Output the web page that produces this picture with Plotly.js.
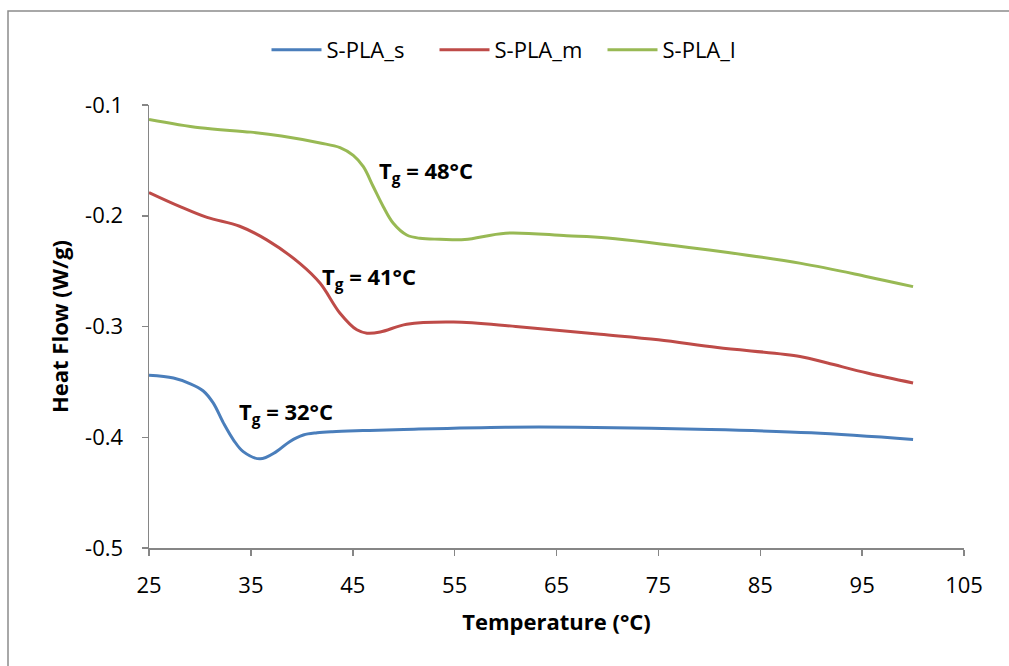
<!DOCTYPE html>
<html>
<head>
<meta charset="utf-8">
<script src="https://cdn.plot.ly/plotly-3.0.1.min.js"></script>
<style>html,body{margin:0;padding:0;background:#fff;}#chart{width:1009px;height:666px;}</style>
</head>
<body>
<div id="chart"></div>
<script>
// Data
const tempS = [25, 27.4, 29.0, 30.3, 31.3, 32.3, 33.3, 34.25, 35.9, 37.5, 38.8, 40.15, 41.5, 43, 46, 50, 60, 67, 80, 90, 100];
const flowS = [-0.344, -0.3465, -0.3515, -0.358, -0.369, -0.387, -0.4025, -0.413, -0.4195, -0.413, -0.404, -0.398, -0.396, -0.395, -0.394, -0.393, -0.391, -0.391, -0.393, -0.396, -0.402];

const tempM = [25, 28, 30.7, 33.9, 36.6, 39.8, 41.8, 43.75, 45.4, 46.4, 47.7, 50.3, 54.9, 61, 69.3, 75, 80.8, 88.9, 91.6, 95.5, 100];
const flowM = [-0.179, -0.1915, -0.2015, -0.2095, -0.222, -0.243, -0.261, -0.288, -0.303, -0.306, -0.305, -0.298, -0.296, -0.300, -0.307, -0.312, -0.319, -0.327, -0.333, -0.342, -0.351];

const tempL = [25, 30, 35, 38, 41.8, 43.75, 45.05, 46.04, 47.02, 48.0, 48.98, 50.3, 51.6, 53.56, 56, 60, 66, 70, 80, 89, 95.5, 100];
const flowL = [-0.113, -0.1205, -0.1245, -0.128, -0.1343, -0.1385, -0.1455, -0.1557, -0.1738, -0.1918, -0.2068, -0.2174, -0.2204, -0.2212, -0.2215, -0.2157, -0.218, -0.220, -0.231, -0.243, -0.255, -0.264];

const seriesNames = ['S-PLA_s', 'S-PLA_m', 'S-PLA_l'];
const tgLabels = ['T<sub>g</sub> = 32°C', 'T<sub>g</sub> = 41°C', 'T<sub>g</sub> = 48°C'];
const tgX = [33.6, 41.8, 47.4];
const tgY = [-0.378, -0.256, -0.1605];

const yTickVals = [-0.5, -0.4, -0.3, -0.2, -0.1];
const yTickText = ['-0.5', '-0.4', '-0.3', '-0.2', '-0.1'];
const xTickVals = [25, 35, 45, 55, 65, 75, 85, 95, 105];
const xTickText = ['25', '35', '45', '55', '65', '75', '85', '95', '105'];

const colors = ['#4A7EBB', '#BE4B48', '#98B954'];
const FONT = '"Open Sans", "Noto Sans", sans-serif';
const FS = 22;

const xs = [tempS, tempM, tempL];
const ys = [flowS, flowM, flowL];
const traces = xs.map((x, i) => ({
  x: x, y: ys[i], name: seriesNames[i], type: 'scatter', mode: 'lines',
  line: {color: colors[i], width: 3, shape: 'spline', smoothing: 1}
}));

const annotations = tgLabels.map((t, i) => ({
  x: tgX[i], y: tgY[i], xref: 'x', yref: 'y', text: '<b>' + t + '</b>',
  showarrow: false, xanchor: 'left', yanchor: 'middle',
  font: {family: FONT, size: FS, color: '#000'}
}));

const layout = {
  width: 1009, height: 666,
  margin: {l: 149, r: 45, t: 105, b: 118},
  paper_bgcolor: '#fff', plot_bgcolor: '#fff',
  font: {family: FONT, size: FS, color: '#000'},
  showlegend: true,
  legend: {orientation: 'h', xref: 'container', yref: 'container', x: 0.5 + 14/1009, xanchor: 'center',
           y: 1 - 50/666, yanchor: 'middle', font: {family: FONT, size: FS, color: '#000'},
           itemwidth: 50, entrywidth: 103, entrywidthmode: 'pixels', traceorder: 'normal'},
  xaxis: {range: [25, 105], tickvals: xTickVals, ticktext: xTickText, showgrid: false, zeroline: false,
          showline: true, linecolor: '#868686', linewidth: 1.5, ticks: 'outside', ticklen: 6,
          tickcolor: '#868686', tickwidth: 1.5, tickfont: {family: FONT, size: FS, color: '#000'},
          ticklabelstandoff: 11,
          title: {text: '<b>Temperature (°C)</b>', font: {family: FONT, size: FS, color: '#000'}, standoff: 16}},
  yaxis: {range: [-0.5, -0.1], tickvals: yTickVals, ticktext: yTickText, showgrid: false, zeroline: false,
          showline: true, linecolor: '#868686', linewidth: 1.5, ticks: 'outside', ticklen: 6,
          tickcolor: '#868686', tickwidth: 1.5, tickfont: {family: FONT, size: FS, color: '#000'},
          ticklabelstandoff: 14,
          title: {text: '<b>Heat Flow (W/g)</b>', font: {family: FONT, size: FS, color: '#000'}, standoff: 10}},
  annotations: annotations,
  shapes: [{type: 'rect', xref: 'paper', yref: 'paper',
            x0: (8 - 149) / 815, x1: (1020 - 149) / 815,
            y0: (548 - 680) / 443, y1: (548 - 11) / 443,
            line: {color: '#8c8c8c', width: 1.5}, fillcolor: 'rgba(0,0,0,0)', layer: 'below'}]
};

Plotly.newPlot('chart', traces, layout, {displayModeBar: false, staticPlot: true});
</script>
</body>
</html>
